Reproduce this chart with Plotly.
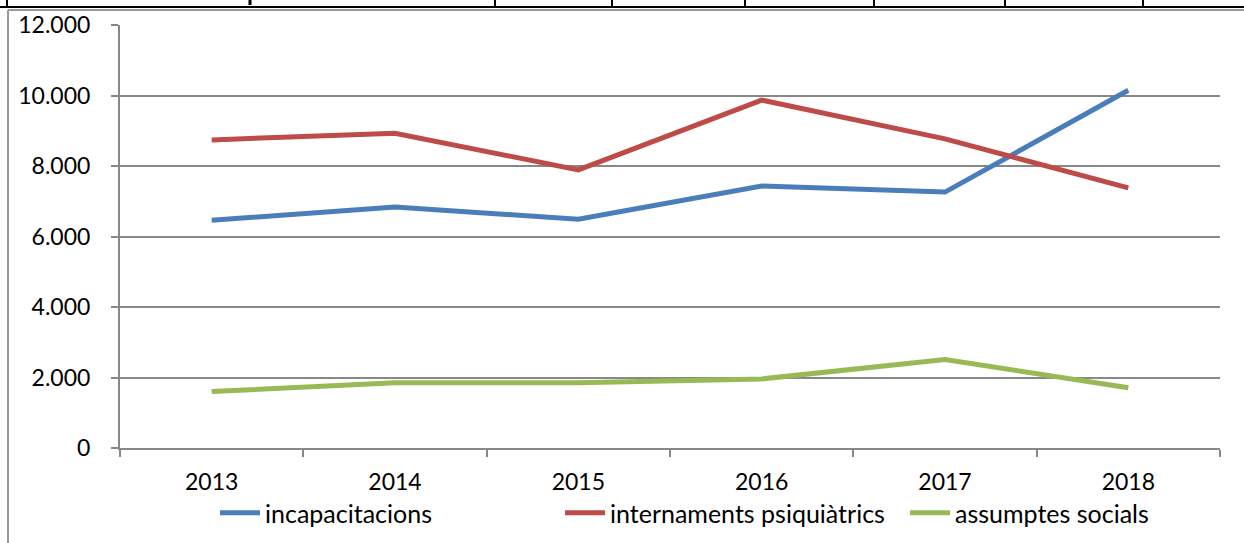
import plotly.graph_objects as go

years = ["2013", "2014", "2015", "2016", "2017", "2018"]
incapacitacions = [6460, 6840, 6490, 7430, 7260, 10150]
internaments = [8740, 8930, 7890, 9870, 8770, 7380]
assumptes = [1600, 1850, 1850, 1960, 2510, 1710]
y_ticks = [0, 2000, 4000, 6000, 8000, 10000, 12000]

series = [
    ("incapacitacions", incapacitacions, "#4A7EBB"),
    ("internaments psiquiàtrics", internaments, "#BE4B48"),
    ("assumptes socials", assumptes, "#98B954"),
]

fig = go.Figure()
for name, vals, col in series:
    fig.add_trace(go.Scatter(x=years, y=vals, name=name, mode="lines",
                             line=dict(color=col, width=5)))

W, H = 1244, 543
L, R, T, B = 120, 1220, 25, 448

def px(x):
    return (x - L) / (R - L)

def py(y):
    return (B - y) / (B - T)

shapes = []
# page decoration: table border on top and frame of chart
shapes.append(dict(type="line", xref="paper", yref="paper", x0=px(0), x1=px(W), y0=py(7), y1=py(7),
                   line=dict(color="black", width=2)))
for xv in [7, 495, 612, 745, 874, 1005, 1143]:
    shapes.append(dict(type="line", xref="paper", yref="paper", x0=px(xv), x1=px(xv), y0=py(0), y1=py(7),
                       line=dict(color="black", width=2)))
shapes.append(dict(type="line", xref="paper", yref="paper", x0=px(250), x1=px(250), y0=py(0), y1=py(5),
                   line=dict(color="black", width=3)))
shapes.append(dict(type="line", xref="paper", yref="paper", x0=px(8), x1=px(W), y0=py(10), y1=py(10),
                   line=dict(color="#9a9a9a", width=2)))
shapes.append(dict(type="line", xref="paper", yref="paper", x0=px(8), x1=px(8), y0=py(10), y1=py(H),
                   line=dict(color="#9a9a9a", width=2)))

font = "Lato, 'Open Sans', sans-serif"
fig.update_layout(
    width=W, height=H, autosize=False,
    margin=dict(l=L, r=W - R, t=T, b=H - B, pad=0, autoexpand=False),
    paper_bgcolor="white", plot_bgcolor="white",
    separators=",.",
    font=dict(family=font, size=23, color="black"),
    showlegend=True,
    legend=dict(orientation="h", x=px(215), xanchor="left", y=py(513), yanchor="middle",
                font=dict(size=25), itemwidth=40, tracegroupgap=0, itemclick=False,
                entrywidth=290, entrywidthmode="pixels"),
    shapes=shapes,
    xaxis=dict(type="category", range=[-0.5, 5.5], tickson="boundaries", ticks="outside", ticklen=7,
               tickwidth=1.5, automargin=False,
               tickcolor="#888888", showline=True, linecolor="#888888", linewidth=2,
               showgrid=False, ticklabelstandoff=12, tickfont=dict(size=23, family=font)),
    yaxis=dict(range=[0, 12000], tickvals=y_ticks, tickformat=",d", ticks="outside", ticklen=7,
               tickwidth=1.5, automargin=False,
               tickcolor="#888888", showline=True, linecolor="#888888", linewidth=2,
               showgrid=True, gridcolor="#888888", gridwidth=2, zeroline=False,
               ticklabelstandoff=16, tickfont=dict(size=23, family=font)),
)

fig.write_html("out.html", config={"displayModeBar": False},
               post_script="document.body.style.margin='0px';")
